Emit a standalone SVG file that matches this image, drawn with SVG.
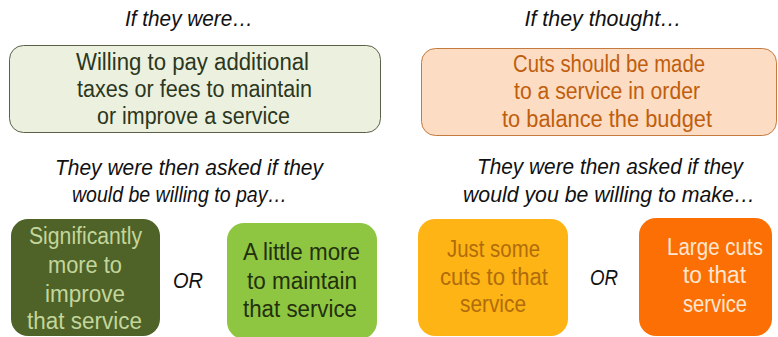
<svg xmlns="http://www.w3.org/2000/svg" width="778" height="337" viewBox="0 0 778 337">
<style>
.body{font-family:"Liberation Sans",Arial,sans-serif;font-size:23px;text-anchor:middle}
.it{font-family:"Liberation Sans",Arial,sans-serif;font-size:22px;font-style:italic;text-anchor:middle;fill:#111}
</style>
<rect width="778" height="337" fill="#ffffff"/>
<g id="heading-left"><text class="it" x="189" y="26" textLength="128" lengthAdjust="spacingAndGlyphs">If they were…</text></g>
<g id="heading-right"><text class="it" x="603" y="26" textLength="157" lengthAdjust="spacingAndGlyphs">If they thought…</text></g>
<g id="node-willing">
<rect x="9.5" y="45.5" width="371" height="87" rx="14" fill="#ebf1de" stroke="#5a6148" stroke-width="1"/>
<text class="body" fill="#2c3620" x="192.5" y="70" textLength="233" lengthAdjust="spacingAndGlyphs">Willing to pay additional</text>
<text class="body" fill="#2c3620" x="194.5" y="97" textLength="235" lengthAdjust="spacingAndGlyphs">taxes or fees to maintain</text>
<text class="body" fill="#2c3620" x="193.5" y="124" textLength="193" lengthAdjust="spacingAndGlyphs">or improve a service</text>
</g>
<g id="node-cuts">
<rect x="421.5" y="48.5" width="355" height="87" rx="14" fill="#fcdcc2" stroke="#c57a3e" stroke-width="1"/>
<text class="body" fill="#bf5e0e" x="609" y="72" textLength="192" lengthAdjust="spacingAndGlyphs">Cuts should be made</text>
<text class="body" fill="#bf5e0e" x="607" y="99" textLength="186" lengthAdjust="spacingAndGlyphs">to a service in order</text>
<text class="body" fill="#bf5e0e" x="607" y="127" textLength="210" lengthAdjust="spacingAndGlyphs">to balance the budget</text>
</g>
<g id="question-left">
<text class="it" x="189" y="175" textLength="268" lengthAdjust="spacingAndGlyphs">They were then asked if they</text>
<text class="it" x="179.5" y="202" textLength="215" lengthAdjust="spacingAndGlyphs">would be willing to pay…</text>
</g>
<g id="question-right">
<text class="it" x="610" y="174" textLength="266" lengthAdjust="spacingAndGlyphs">They were then asked if they</text>
<text class="it" x="609" y="202" textLength="292" lengthAdjust="spacingAndGlyphs">would you be willing to make…</text>
</g>
<g id="node-significantly">
<rect x="11" y="219" width="149" height="117" rx="17" fill="#4f6228"/>
<text class="body" fill="#c3d69b" x="85.5" y="244" textLength="113" lengthAdjust="spacingAndGlyphs">Significantly</text>
<text class="body" fill="#c3d69b" x="85" y="273" textLength="74" lengthAdjust="spacingAndGlyphs">more to</text>
<text class="body" fill="#c3d69b" x="85" y="302" textLength="80" lengthAdjust="spacingAndGlyphs">improve</text>
<text class="body" fill="#c3d69b" x="84.5" y="329" textLength="115" lengthAdjust="spacingAndGlyphs">that service</text>
</g>
<g id="or-left"><text class="it" x="188" y="288" textLength="30" lengthAdjust="spacingAndGlyphs">OR</text></g>
<g id="node-little">
<rect x="227" y="223" width="150" height="116" rx="17" fill="#8fc641"/>
<text class="body" fill="#22300e" x="301.5" y="260" textLength="117" lengthAdjust="spacingAndGlyphs">A little more</text>
<text class="body" fill="#22300e" x="302" y="289" textLength="110" lengthAdjust="spacingAndGlyphs">to maintain</text>
<text class="body" fill="#22300e" x="300" y="317" textLength="114" lengthAdjust="spacingAndGlyphs">that service</text>
</g>
<g id="node-some">
<rect x="418" y="219" width="150" height="117" rx="17" fill="#fdb414"/>
<text class="body" fill="#b06c0c" x="493.5" y="257" textLength="93" lengthAdjust="spacingAndGlyphs">Just some</text>
<text class="body" fill="#b06c0c" x="494" y="285" textLength="108" lengthAdjust="spacingAndGlyphs">cuts to that</text>
<text class="body" fill="#b06c0c" x="493" y="312" textLength="66" lengthAdjust="spacingAndGlyphs">service</text>
</g>
<g id="or-right"><text class="it" x="604" y="285" textLength="28" lengthAdjust="spacingAndGlyphs">OR</text></g>
<g id="node-large">
<rect x="639" y="218" width="133" height="118" rx="17" fill="#fc6f05"/>
<text class="body" fill="#fde7d2" x="715" y="255" textLength="96" lengthAdjust="spacingAndGlyphs">Large cuts</text>
<text class="body" fill="#fde7d2" x="714.5" y="283" textLength="63" lengthAdjust="spacingAndGlyphs">to that</text>
<text class="body" fill="#fde7d2" x="715" y="312" textLength="64" lengthAdjust="spacingAndGlyphs">service</text>
</g>
<g id="connectors"></g>
</svg>
